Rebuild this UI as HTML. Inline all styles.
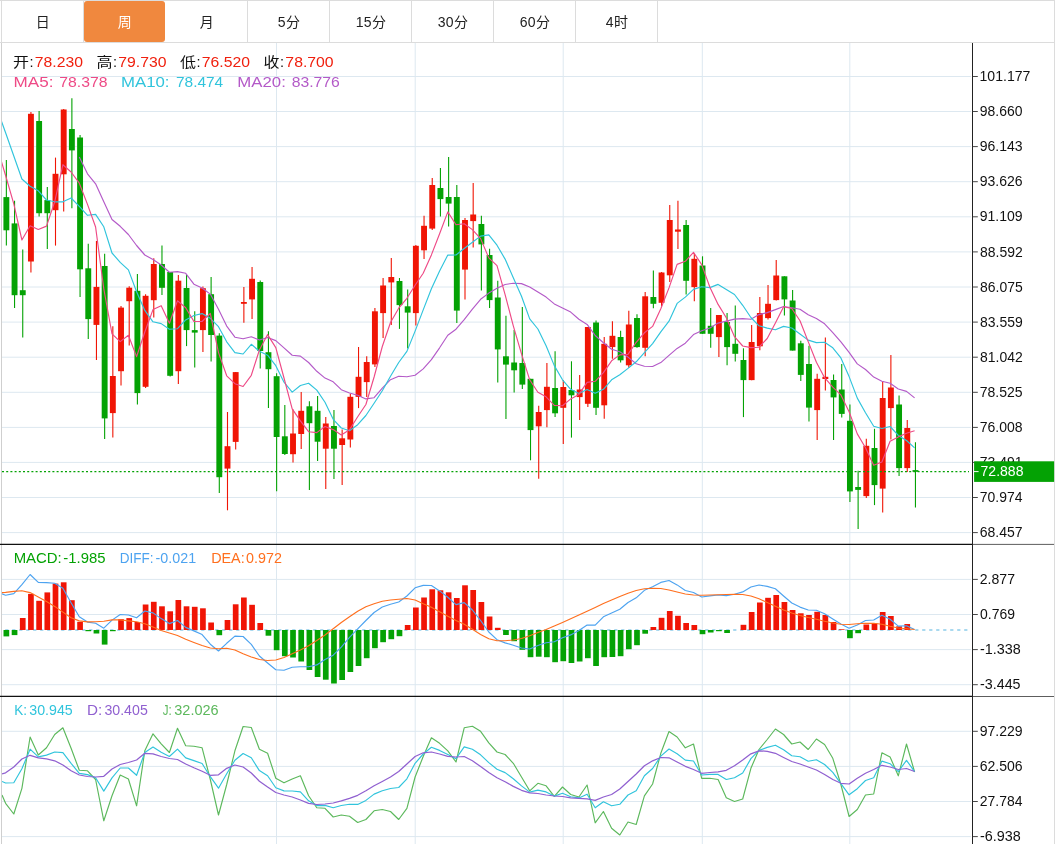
<!DOCTYPE html><html><head><meta charset="utf-8"><title>K线图</title><style>
html,body{margin:0;padding:0;background:#fff;}
body{width:1055px;height:844px;overflow:hidden;position:relative;font-family:"Liberation Sans", "Noto Sans CJK SC", sans-serif;}
#tabs{position:absolute;left:0;top:0;width:1055px;height:41px;border-top:1px solid #dcdcdc;border-bottom:1px solid #dcdcdc;box-sizing:content-box;}
.tab{position:absolute;top:0;height:41px;line-height:42px;text-align:center;font-size:14px;letter-spacing:0.3px;color:#222;padding-left:1px;border-right:1px solid #dcdcdc;box-sizing:border-box;}
.tab.on{background:#f0883e;color:#fff;border-radius:3px;border-right:none;top:0px;height:41px;}
svg{position:absolute;left:0;top:0;}
svg text{font-family:"Liberation Sans", "Noto Sans CJK SC", sans-serif;}
</style></head><body>
<div id="tabs">
<div class="tab" style="left:2.0px;width:82.0px">日</div>
<div class="tab on" style="left:84.0px;width:81.0px">周</div>
<div class="tab" style="left:166.0px;width:82.0px">月</div>
<div class="tab" style="left:248.0px;width:82.0px">5分</div>
<div class="tab" style="left:330.0px;width:82.0px">15分</div>
<div class="tab" style="left:412.0px;width:82.0px">30分</div>
<div class="tab" style="left:494.0px;width:82.0px">60分</div>
<div class="tab" style="left:576.0px;width:82.0px">4时</div>
</div>
<svg width="1055" height="844" viewBox="0 0 1055 844">
<defs><clipPath id="cp"><rect x="2" y="43" width="970" height="801"/></clipPath></defs>
<line x1="1.5" y1="43" x2="1.5" y2="844" stroke="#cfcfcf" stroke-width="1"/>
<line x1="1054.5" y1="0" x2="1054.5" y2="844" stroke="#dcdcdc" stroke-width="1"/>
<line x1="1.5" y1="0" x2="1.5" y2="43" stroke="#dcdcdc" stroke-width="1"/>
<g stroke="#dde8f0" stroke-width="1" fill="none">
<line x1="2" y1="76.5" x2="971" y2="76.5"/>
<line x1="2" y1="111.5" x2="971" y2="111.5"/>
<line x1="2" y1="146.6" x2="971" y2="146.6"/>
<line x1="2" y1="181.7" x2="971" y2="181.7"/>
<line x1="2" y1="216.8" x2="971" y2="216.8"/>
<line x1="2" y1="251.9" x2="971" y2="251.9"/>
<line x1="2" y1="287.0" x2="971" y2="287.0"/>
<line x1="2" y1="322.1" x2="971" y2="322.1"/>
<line x1="2" y1="357.2" x2="971" y2="357.2"/>
<line x1="2" y1="392.3" x2="971" y2="392.3"/>
<line x1="2" y1="427.4" x2="971" y2="427.4"/>
<line x1="2" y1="462.4" x2="971" y2="462.4"/>
<line x1="2" y1="497.5" x2="971" y2="497.5"/>
<line x1="2" y1="532.6" x2="971" y2="532.6"/>
<line x1="2" y1="579.4" x2="971" y2="579.4"/>
<line x1="2" y1="614.5" x2="971" y2="614.5"/>
<line x1="2" y1="649.6" x2="971" y2="649.6"/>
<line x1="2" y1="684.7" x2="971" y2="684.7"/>
<line x1="2" y1="731.3" x2="971" y2="731.3"/>
<line x1="2" y1="766.4" x2="971" y2="766.4"/>
<line x1="2" y1="801.5" x2="971" y2="801.5"/>
<line x1="2" y1="836.6" x2="971" y2="836.6"/>
<line x1="276.5" y1="43" x2="276.5" y2="844"/>
<line x1="415.2" y1="43" x2="415.2" y2="844"/>
<line x1="563.2" y1="43" x2="563.2" y2="844"/>
<line x1="702.3" y1="43" x2="702.3" y2="844"/>
<line x1="849.8" y1="43" x2="849.8" y2="844"/>
</g>
<line x1="5.2" y1="630" x2="967.6" y2="630" stroke="#a9d9ef" stroke-width="2" stroke-dasharray="3.2 3.8"/>
<line x1="6.36" y1="160.0" x2="6.36" y2="245.6" stroke="#04a204" stroke-width="1.1"/>
<rect x="3.41" y="197.1" width="5.9" height="33.2" fill="#04a204"/>
<line x1="14.55" y1="200.8" x2="14.55" y2="308.1" stroke="#04a204" stroke-width="1.1"/>
<rect x="11.60" y="223.4" width="5.9" height="71.8" fill="#04a204"/>
<line x1="22.74" y1="249.5" x2="22.74" y2="337.4" stroke="#04a204" stroke-width="1.1"/>
<rect x="19.79" y="290.2" width="5.9" height="5.0" fill="#04a204"/>
<line x1="30.93" y1="112.0" x2="30.93" y2="272.6" stroke="#f01505" stroke-width="1.1"/>
<rect x="27.98" y="113.8" width="5.9" height="147.7" fill="#f01505"/>
<line x1="39.12" y1="111.0" x2="39.12" y2="216.6" stroke="#04a204" stroke-width="1.1"/>
<rect x="36.17" y="121.0" width="5.9" height="92.2" fill="#04a204"/>
<line x1="47.31" y1="187.0" x2="47.31" y2="249.0" stroke="#04a204" stroke-width="1.1"/>
<rect x="44.36" y="200.1" width="5.9" height="13.1" fill="#04a204"/>
<line x1="55.50" y1="157.6" x2="55.50" y2="245.6" stroke="#f01505" stroke-width="1.1"/>
<rect x="52.55" y="173.8" width="5.9" height="36.4" fill="#f01505"/>
<line x1="63.69" y1="109.0" x2="63.69" y2="211.5" stroke="#f01505" stroke-width="1.1"/>
<rect x="60.74" y="109.5" width="5.9" height="64.8" fill="#f01505"/>
<line x1="71.88" y1="98.3" x2="71.88" y2="208.2" stroke="#04a204" stroke-width="1.1"/>
<rect x="68.93" y="129.0" width="5.9" height="21.4" fill="#04a204"/>
<line x1="80.07" y1="135.0" x2="80.07" y2="297.1" stroke="#04a204" stroke-width="1.1"/>
<rect x="77.12" y="137.5" width="5.9" height="131.8" fill="#04a204"/>
<line x1="88.26" y1="243.7" x2="88.26" y2="339.1" stroke="#04a204" stroke-width="1.1"/>
<rect x="85.31" y="268.3" width="5.9" height="50.8" fill="#04a204"/>
<line x1="96.45" y1="240.9" x2="96.45" y2="360.1" stroke="#f01505" stroke-width="1.1"/>
<rect x="93.50" y="286.9" width="5.9" height="38.0" fill="#f01505"/>
<line x1="104.64" y1="253.8" x2="104.64" y2="439.1" stroke="#04a204" stroke-width="1.1"/>
<rect x="101.69" y="266.0" width="5.9" height="152.4" fill="#04a204"/>
<line x1="112.83" y1="326.3" x2="112.83" y2="437.6" stroke="#f01505" stroke-width="1.1"/>
<rect x="109.88" y="376.0" width="5.9" height="37.1" fill="#f01505"/>
<line x1="121.02" y1="305.9" x2="121.02" y2="385.4" stroke="#f01505" stroke-width="1.1"/>
<rect x="118.07" y="307.6" width="5.9" height="63.6" fill="#f01505"/>
<line x1="129.21" y1="286.2" x2="129.21" y2="345.4" stroke="#f01505" stroke-width="1.1"/>
<rect x="126.26" y="287.7" width="5.9" height="13.5" fill="#f01505"/>
<line x1="137.40" y1="274.0" x2="137.40" y2="404.4" stroke="#04a204" stroke-width="1.1"/>
<rect x="134.45" y="290.8" width="5.9" height="102.3" fill="#04a204"/>
<line x1="145.59" y1="294.2" x2="145.59" y2="388.0" stroke="#f01505" stroke-width="1.1"/>
<rect x="142.64" y="295.8" width="5.9" height="91.0" fill="#f01505"/>
<line x1="153.78" y1="258.2" x2="153.78" y2="317.4" stroke="#f01505" stroke-width="1.1"/>
<rect x="150.83" y="264.0" width="5.9" height="36.2" fill="#f01505"/>
<line x1="161.97" y1="245.6" x2="161.97" y2="295.1" stroke="#04a204" stroke-width="1.1"/>
<rect x="159.02" y="264.0" width="5.9" height="23.8" fill="#04a204"/>
<line x1="170.16" y1="272.0" x2="170.16" y2="376.6" stroke="#04a204" stroke-width="1.1"/>
<rect x="167.21" y="272.0" width="5.9" height="103.8" fill="#04a204"/>
<line x1="178.35" y1="275.0" x2="178.35" y2="384.1" stroke="#f01505" stroke-width="1.1"/>
<rect x="175.40" y="280.7" width="5.9" height="90.5" fill="#f01505"/>
<line x1="186.54" y1="274.7" x2="186.54" y2="346.1" stroke="#04a204" stroke-width="1.1"/>
<rect x="183.59" y="288.0" width="5.9" height="42.1" fill="#04a204"/>
<line x1="194.73" y1="311.2" x2="194.73" y2="367.6" stroke="#04a204" stroke-width="1.1"/>
<rect x="191.78" y="330.1" width="5.9" height="2.5" fill="#04a204"/>
<line x1="202.92" y1="286.5" x2="202.92" y2="351.9" stroke="#f01505" stroke-width="1.1"/>
<rect x="199.97" y="288.2" width="5.9" height="41.9" fill="#f01505"/>
<line x1="211.11" y1="277.0" x2="211.11" y2="361.4" stroke="#04a204" stroke-width="1.1"/>
<rect x="208.16" y="294.2" width="5.9" height="40.8" fill="#04a204"/>
<line x1="219.30" y1="333.2" x2="219.30" y2="492.9" stroke="#04a204" stroke-width="1.1"/>
<rect x="216.35" y="335.6" width="5.9" height="141.6" fill="#04a204"/>
<line x1="227.49" y1="412.0" x2="227.49" y2="510.3" stroke="#f01505" stroke-width="1.1"/>
<rect x="224.54" y="446.2" width="5.9" height="22.4" fill="#f01505"/>
<line x1="235.68" y1="372.0" x2="235.68" y2="449.4" stroke="#f01505" stroke-width="1.1"/>
<rect x="232.73" y="372.1" width="5.9" height="69.8" fill="#f01505"/>
<line x1="243.87" y1="287.0" x2="243.87" y2="322.8" stroke="#f01505" stroke-width="1.1"/>
<rect x="240.92" y="302.0" width="5.9" height="1.8" fill="#f01505"/>
<line x1="252.06" y1="267.0" x2="252.06" y2="319.0" stroke="#f01505" stroke-width="1.1"/>
<rect x="249.11" y="278.8" width="5.9" height="20.6" fill="#f01505"/>
<line x1="260.25" y1="280.6" x2="260.25" y2="368.4" stroke="#04a204" stroke-width="1.1"/>
<rect x="257.30" y="282.0" width="5.9" height="69.0" fill="#04a204"/>
<line x1="268.44" y1="331.3" x2="268.44" y2="408.1" stroke="#04a204" stroke-width="1.1"/>
<rect x="265.49" y="352.2" width="5.9" height="17.0" fill="#04a204"/>
<line x1="276.63" y1="373.2" x2="276.63" y2="491.3" stroke="#04a204" stroke-width="1.1"/>
<rect x="273.68" y="376.2" width="5.9" height="60.8" fill="#04a204"/>
<line x1="284.82" y1="405.0" x2="284.82" y2="455.1" stroke="#04a204" stroke-width="1.1"/>
<rect x="281.87" y="436.3" width="5.9" height="17.7" fill="#04a204"/>
<line x1="293.01" y1="409.5" x2="293.01" y2="462.4" stroke="#f01505" stroke-width="1.1"/>
<rect x="290.06" y="433.5" width="5.9" height="20.7" fill="#f01505"/>
<line x1="301.20" y1="392.0" x2="301.20" y2="449.1" stroke="#f01505" stroke-width="1.1"/>
<rect x="298.25" y="410.8" width="5.9" height="23.2" fill="#f01505"/>
<line x1="309.39" y1="401.3" x2="309.39" y2="489.9" stroke="#04a204" stroke-width="1.1"/>
<rect x="306.44" y="406.3" width="5.9" height="16.9" fill="#04a204"/>
<line x1="317.58" y1="396.0" x2="317.58" y2="461.1" stroke="#04a204" stroke-width="1.1"/>
<rect x="314.63" y="410.8" width="5.9" height="30.9" fill="#04a204"/>
<line x1="325.77" y1="417.0" x2="325.77" y2="488.9" stroke="#f01505" stroke-width="1.1"/>
<rect x="322.82" y="423.5" width="5.9" height="25.2" fill="#f01505"/>
<line x1="333.96" y1="410.0" x2="333.96" y2="479.1" stroke="#04a204" stroke-width="1.1"/>
<rect x="331.01" y="426.0" width="5.9" height="22.7" fill="#04a204"/>
<line x1="342.15" y1="429.5" x2="342.15" y2="485.1" stroke="#f01505" stroke-width="1.1"/>
<rect x="339.20" y="438.3" width="5.9" height="6.7" fill="#f01505"/>
<line x1="350.34" y1="393.8" x2="350.34" y2="447.4" stroke="#f01505" stroke-width="1.1"/>
<rect x="347.39" y="396.8" width="5.9" height="42.7" fill="#f01505"/>
<line x1="358.53" y1="347.0" x2="358.53" y2="408.1" stroke="#f01505" stroke-width="1.1"/>
<rect x="355.58" y="376.8" width="5.9" height="20.1" fill="#f01505"/>
<line x1="366.72" y1="356.3" x2="366.72" y2="396.9" stroke="#f01505" stroke-width="1.1"/>
<rect x="363.77" y="362.0" width="5.9" height="20.1" fill="#f01505"/>
<line x1="374.91" y1="308.0" x2="374.91" y2="366.9" stroke="#f01505" stroke-width="1.1"/>
<rect x="371.96" y="311.3" width="5.9" height="53.1" fill="#f01505"/>
<line x1="383.10" y1="278.0" x2="383.10" y2="338.1" stroke="#f01505" stroke-width="1.1"/>
<rect x="380.15" y="285.5" width="5.9" height="27.6" fill="#f01505"/>
<line x1="391.29" y1="258.0" x2="391.29" y2="325.1" stroke="#f01505" stroke-width="1.1"/>
<rect x="388.34" y="277.0" width="5.9" height="5.4" fill="#f01505"/>
<line x1="399.48" y1="278.0" x2="399.48" y2="328.9" stroke="#04a204" stroke-width="1.1"/>
<rect x="396.53" y="281.0" width="5.9" height="24.1" fill="#04a204"/>
<line x1="407.67" y1="289.5" x2="407.67" y2="348.6" stroke="#04a204" stroke-width="1.1"/>
<rect x="404.72" y="306.3" width="5.9" height="6.3" fill="#04a204"/>
<line x1="415.86" y1="245.0" x2="415.86" y2="325.6" stroke="#f01505" stroke-width="1.1"/>
<rect x="412.91" y="245.8" width="5.9" height="67.3" fill="#f01505"/>
<line x1="424.05" y1="215.8" x2="424.05" y2="258.9" stroke="#f01505" stroke-width="1.1"/>
<rect x="421.10" y="225.8" width="5.9" height="24.5" fill="#f01505"/>
<line x1="432.24" y1="178.0" x2="432.24" y2="230.1" stroke="#f01505" stroke-width="1.1"/>
<rect x="429.29" y="185.0" width="5.9" height="43.6" fill="#f01505"/>
<line x1="440.43" y1="168.0" x2="440.43" y2="216.4" stroke="#04a204" stroke-width="1.1"/>
<rect x="437.48" y="188.0" width="5.9" height="11.1" fill="#04a204"/>
<line x1="448.62" y1="157.0" x2="448.62" y2="226.4" stroke="#04a204" stroke-width="1.1"/>
<rect x="445.67" y="197.0" width="5.9" height="6.6" fill="#04a204"/>
<line x1="456.81" y1="185.0" x2="456.81" y2="323.1" stroke="#04a204" stroke-width="1.1"/>
<rect x="453.86" y="197.0" width="5.9" height="113.6" fill="#04a204"/>
<line x1="465.00" y1="218.0" x2="465.00" y2="299.4" stroke="#f01505" stroke-width="1.1"/>
<rect x="462.05" y="220.0" width="5.9" height="49.6" fill="#f01505"/>
<line x1="473.19" y1="183.0" x2="473.19" y2="247.4" stroke="#f01505" stroke-width="1.1"/>
<rect x="470.24" y="214.5" width="5.9" height="6.6" fill="#f01505"/>
<line x1="481.38" y1="215.8" x2="481.38" y2="290.6" stroke="#04a204" stroke-width="1.1"/>
<rect x="478.43" y="224.0" width="5.9" height="20.4" fill="#04a204"/>
<line x1="489.57" y1="248.8" x2="489.57" y2="308.1" stroke="#04a204" stroke-width="1.1"/>
<rect x="486.62" y="255.0" width="5.9" height="45.1" fill="#04a204"/>
<line x1="497.76" y1="280.8" x2="497.76" y2="382.6" stroke="#04a204" stroke-width="1.1"/>
<rect x="494.81" y="297.5" width="5.9" height="51.9" fill="#04a204"/>
<line x1="505.95" y1="315.8" x2="505.95" y2="419.1" stroke="#04a204" stroke-width="1.1"/>
<rect x="503.00" y="356.3" width="5.9" height="8.3" fill="#04a204"/>
<line x1="514.14" y1="330.0" x2="514.14" y2="392.6" stroke="#04a204" stroke-width="1.1"/>
<rect x="511.19" y="362.5" width="5.9" height="7.8" fill="#04a204"/>
<line x1="522.33" y1="307.0" x2="522.33" y2="389.1" stroke="#04a204" stroke-width="1.1"/>
<rect x="519.38" y="363.0" width="5.9" height="21.6" fill="#04a204"/>
<line x1="530.52" y1="378.8" x2="530.52" y2="460.3" stroke="#04a204" stroke-width="1.1"/>
<rect x="527.57" y="378.8" width="5.9" height="51.3" fill="#04a204"/>
<line x1="538.71" y1="405.8" x2="538.71" y2="478.8" stroke="#f01505" stroke-width="1.1"/>
<rect x="535.76" y="412.0" width="5.9" height="14.3" fill="#f01505"/>
<line x1="546.90" y1="363.0" x2="546.90" y2="427.3" stroke="#f01505" stroke-width="1.1"/>
<rect x="543.95" y="386.8" width="5.9" height="23.3" fill="#f01505"/>
<line x1="555.09" y1="351.3" x2="555.09" y2="417.1" stroke="#04a204" stroke-width="1.1"/>
<rect x="552.14" y="388.0" width="5.9" height="25.3" fill="#04a204"/>
<line x1="563.28" y1="380.0" x2="563.28" y2="444.1" stroke="#f01505" stroke-width="1.1"/>
<rect x="560.33" y="387.0" width="5.9" height="20.8" fill="#f01505"/>
<line x1="571.47" y1="361.3" x2="571.47" y2="437.6" stroke="#04a204" stroke-width="1.1"/>
<rect x="568.52" y="390.0" width="5.9" height="5.3" fill="#04a204"/>
<line x1="579.66" y1="375.0" x2="579.66" y2="420.1" stroke="#f01505" stroke-width="1.1"/>
<rect x="576.71" y="389.5" width="5.9" height="7.6" fill="#f01505"/>
<line x1="587.85" y1="327.0" x2="587.85" y2="407.1" stroke="#f01505" stroke-width="1.1"/>
<rect x="584.90" y="327.0" width="5.9" height="76.8" fill="#f01505"/>
<line x1="596.04" y1="320.5" x2="596.04" y2="415.1" stroke="#04a204" stroke-width="1.1"/>
<rect x="593.09" y="322.5" width="5.9" height="85.3" fill="#04a204"/>
<line x1="604.23" y1="337.0" x2="604.23" y2="418.8" stroke="#f01505" stroke-width="1.1"/>
<rect x="601.28" y="343.8" width="5.9" height="61.5" fill="#f01505"/>
<line x1="612.42" y1="321.3" x2="612.42" y2="358.8" stroke="#f01505" stroke-width="1.1"/>
<rect x="609.47" y="335.8" width="5.9" height="11.3" fill="#f01505"/>
<line x1="620.61" y1="330.8" x2="620.61" y2="362.6" stroke="#04a204" stroke-width="1.1"/>
<rect x="617.66" y="337.0" width="5.9" height="23.3" fill="#04a204"/>
<line x1="628.80" y1="310.8" x2="628.80" y2="367.8" stroke="#f01505" stroke-width="1.1"/>
<rect x="625.85" y="324.5" width="5.9" height="40.8" fill="#f01505"/>
<line x1="636.99" y1="314.3" x2="636.99" y2="347.8" stroke="#04a204" stroke-width="1.1"/>
<rect x="634.04" y="318.0" width="5.9" height="29.1" fill="#04a204"/>
<line x1="645.18" y1="292.0" x2="645.18" y2="356.3" stroke="#f01505" stroke-width="1.1"/>
<rect x="642.23" y="296.3" width="5.9" height="51.5" fill="#f01505"/>
<line x1="653.37" y1="270.5" x2="653.37" y2="308.3" stroke="#04a204" stroke-width="1.1"/>
<rect x="650.42" y="297.0" width="5.9" height="6.8" fill="#04a204"/>
<line x1="661.56" y1="272.0" x2="661.56" y2="306.3" stroke="#f01505" stroke-width="1.1"/>
<rect x="658.61" y="272.5" width="5.9" height="30.3" fill="#f01505"/>
<line x1="669.75" y1="205.0" x2="669.75" y2="282.1" stroke="#f01505" stroke-width="1.1"/>
<rect x="666.80" y="220.0" width="5.9" height="55.3" fill="#f01505"/>
<line x1="677.94" y1="200.8" x2="677.94" y2="249.1" stroke="#f01505" stroke-width="1.1"/>
<rect x="674.99" y="229.5" width="5.9" height="2.2" fill="#f01505"/>
<line x1="686.13" y1="220.0" x2="686.13" y2="294.6" stroke="#04a204" stroke-width="1.1"/>
<rect x="683.18" y="225.0" width="5.9" height="55.8" fill="#04a204"/>
<line x1="694.32" y1="253.8" x2="694.32" y2="301.3" stroke="#f01505" stroke-width="1.1"/>
<rect x="691.37" y="258.8" width="5.9" height="28.3" fill="#f01505"/>
<line x1="702.51" y1="256.3" x2="702.51" y2="333.8" stroke="#04a204" stroke-width="1.1"/>
<rect x="699.56" y="265.5" width="5.9" height="68.3" fill="#04a204"/>
<line x1="710.70" y1="308.0" x2="710.70" y2="347.8" stroke="#04a204" stroke-width="1.1"/>
<rect x="707.75" y="325.8" width="5.9" height="8.0" fill="#04a204"/>
<line x1="718.89" y1="315.0" x2="718.89" y2="357.1" stroke="#f01505" stroke-width="1.1"/>
<rect x="715.94" y="315.0" width="5.9" height="22.1" fill="#f01505"/>
<line x1="727.08" y1="313.0" x2="727.08" y2="365.3" stroke="#04a204" stroke-width="1.1"/>
<rect x="724.13" y="322.0" width="5.9" height="25.1" fill="#04a204"/>
<line x1="735.27" y1="305.5" x2="735.27" y2="361.6" stroke="#04a204" stroke-width="1.1"/>
<rect x="732.32" y="343.8" width="5.9" height="10.0" fill="#04a204"/>
<line x1="743.46" y1="348.3" x2="743.46" y2="417.1" stroke="#04a204" stroke-width="1.1"/>
<rect x="740.51" y="360.0" width="5.9" height="20.1" fill="#04a204"/>
<line x1="751.65" y1="325.0" x2="751.65" y2="380.3" stroke="#f01505" stroke-width="1.1"/>
<rect x="748.70" y="342.0" width="5.9" height="38.1" fill="#f01505"/>
<line x1="759.84" y1="297.0" x2="759.84" y2="350.3" stroke="#f01505" stroke-width="1.1"/>
<rect x="756.89" y="313.0" width="5.9" height="33.3" fill="#f01505"/>
<line x1="768.03" y1="285.0" x2="768.03" y2="319.4" stroke="#f01505" stroke-width="1.1"/>
<rect x="765.08" y="303.8" width="5.9" height="14.3" fill="#f01505"/>
<line x1="776.22" y1="260.0" x2="776.22" y2="300.6" stroke="#f01505" stroke-width="1.1"/>
<rect x="773.27" y="275.5" width="5.9" height="24.6" fill="#f01505"/>
<line x1="784.41" y1="276.3" x2="784.41" y2="315.6" stroke="#04a204" stroke-width="1.1"/>
<rect x="781.46" y="276.3" width="5.9" height="23.1" fill="#04a204"/>
<line x1="792.60" y1="290.0" x2="792.60" y2="350.6" stroke="#04a204" stroke-width="1.1"/>
<rect x="789.65" y="300.5" width="5.9" height="50.1" fill="#04a204"/>
<line x1="800.79" y1="340.8" x2="800.79" y2="381.1" stroke="#04a204" stroke-width="1.1"/>
<rect x="797.84" y="343.3" width="5.9" height="31.6" fill="#04a204"/>
<line x1="808.98" y1="345.8" x2="808.98" y2="421.4" stroke="#04a204" stroke-width="1.1"/>
<rect x="806.03" y="364.0" width="5.9" height="43.6" fill="#04a204"/>
<line x1="817.17" y1="373.8" x2="817.17" y2="440.1" stroke="#f01505" stroke-width="1.1"/>
<rect x="814.22" y="378.8" width="5.9" height="31.3" fill="#f01505"/>
<line x1="825.36" y1="337.5" x2="825.36" y2="390.4" stroke="#f01505" stroke-width="1.1"/>
<rect x="822.41" y="376.8" width="5.9" height="2.2" fill="#f01505"/>
<line x1="833.55" y1="374.5" x2="833.55" y2="439.9" stroke="#04a204" stroke-width="1.1"/>
<rect x="830.60" y="380.0" width="5.9" height="17.4" fill="#04a204"/>
<line x1="841.74" y1="364.0" x2="841.74" y2="417.6" stroke="#04a204" stroke-width="1.1"/>
<rect x="838.79" y="389.5" width="5.9" height="24.4" fill="#04a204"/>
<line x1="849.93" y1="404.5" x2="849.93" y2="501.9" stroke="#04a204" stroke-width="1.1"/>
<rect x="846.98" y="420.8" width="5.9" height="70.6" fill="#04a204"/>
<line x1="858.12" y1="470.8" x2="858.12" y2="528.9" stroke="#04a204" stroke-width="1.1"/>
<rect x="855.17" y="487.0" width="5.9" height="2.9" fill="#04a204"/>
<line x1="866.31" y1="438.8" x2="866.31" y2="498.1" stroke="#f01505" stroke-width="1.1"/>
<rect x="863.36" y="445.8" width="5.9" height="50.3" fill="#f01505"/>
<line x1="874.50" y1="428.8" x2="874.50" y2="505.1" stroke="#04a204" stroke-width="1.1"/>
<rect x="871.55" y="448.0" width="5.9" height="37.1" fill="#04a204"/>
<line x1="882.69" y1="381.3" x2="882.69" y2="512.4" stroke="#f01505" stroke-width="1.1"/>
<rect x="879.74" y="398.0" width="5.9" height="90.6" fill="#f01505"/>
<line x1="890.88" y1="355.0" x2="890.88" y2="439.4" stroke="#f01505" stroke-width="1.1"/>
<rect x="887.93" y="387.5" width="5.9" height="20.6" fill="#f01505"/>
<line x1="899.07" y1="395.5" x2="899.07" y2="476.1" stroke="#04a204" stroke-width="1.1"/>
<rect x="896.12" y="404.5" width="5.9" height="63.6" fill="#04a204"/>
<line x1="907.26" y1="420.0" x2="907.26" y2="471.9" stroke="#f01505" stroke-width="1.1"/>
<rect x="904.31" y="428.0" width="5.9" height="40.1" fill="#f01505"/>
<line x1="915.45" y1="442.2" x2="915.45" y2="507.5" stroke="#04a204" stroke-width="1.1"/>
<rect x="912.50" y="470.1" width="5.9" height="1.7" fill="#04a204"/>
<polyline clip-path="url(#cp)" fill="none" stroke="#b45ac8" stroke-width="1.15" stroke-linejoin="round" points="79.3,157.0 87.5,173.8 95.6,183.8 103.8,201.8 112.0,219.5 120.2,226.3 128.4,234.5 136.6,245.5 144.8,255.0 153.0,259.5 161.2,265.0 169.4,272.3 177.5,271.6 185.7,273.3 193.9,284.2 202.1,288.0 210.3,294.1 218.5,309.3 226.7,326.1 234.9,337.2 243.1,338.8 251.3,336.8 259.4,340.0 267.6,337.5 275.8,340.6 284.0,347.9 292.2,355.2 300.4,356.1 308.6,362.5 316.8,371.3 325.0,378.1 333.2,381.8 341.3,389.7 349.5,393.0 357.7,395.2 365.9,398.9 374.1,397.7 382.3,388.1 390.5,379.7 398.7,376.3 406.9,376.8 415.1,375.2 423.2,368.9 431.4,359.7 439.6,347.8 447.8,335.3 456.0,329.2 464.2,319.6 472.4,309.2 480.6,299.3 488.8,293.1 497.0,288.2 505.1,284.5 513.3,283.2 521.5,283.6 529.7,287.0 537.9,292.0 546.1,297.1 554.3,303.9 562.5,308.0 570.7,312.1 578.9,319.3 587.1,324.4 595.2,335.5 603.4,342.7 611.6,349.3 619.8,351.8 628.0,357.1 636.2,363.7 644.4,366.3 652.6,366.5 660.8,362.6 669.0,355.4 677.1,348.4 685.3,343.2 693.5,334.6 701.7,330.7 709.9,328.0 718.1,323.1 726.3,321.1 734.5,319.1 742.7,318.6 750.9,319.3 759.0,314.6 767.2,312.6 775.4,309.6 783.6,306.5 791.8,307.8 800.0,309.2 808.2,314.8 816.4,318.5 824.6,323.8 832.8,332.6 840.9,341.8 849.1,352.4 857.3,363.9 865.5,369.5 873.7,377.1 881.9,381.2 890.1,383.3 898.3,389.0 906.5,391.4 914.6,397.9"/>
<polyline clip-path="url(#cp)" fill="none" stroke="#30c4dc" stroke-width="1.15" stroke-linejoin="round" points="-2.6,110.0 5.6,132.7 13.8,156.0 21.9,179.0 30.1,186.3 38.3,190.8 46.5,200.0 54.7,201.8 62.9,201.8 71.1,198.0 79.3,206.4 87.5,215.3 95.6,214.4 103.8,226.8 112.0,253.0 120.2,262.4 128.4,269.9 136.6,291.8 144.8,310.4 153.0,321.8 161.2,323.6 169.4,329.3 177.5,328.7 185.7,319.9 193.9,315.5 202.1,313.6 210.3,318.3 218.5,326.7 226.7,341.8 234.9,352.6 243.1,354.0 251.3,344.3 259.4,351.3 267.6,355.2 275.8,365.7 284.0,382.2 292.2,392.1 300.4,385.5 308.6,383.2 316.8,390.1 325.0,402.3 333.2,419.3 341.3,428.0 349.5,430.8 357.7,424.7 365.9,415.5 374.1,403.3 382.3,390.8 390.5,376.2 398.7,362.5 406.9,351.4 415.1,331.1 423.2,309.9 431.4,288.7 439.6,270.9 447.8,255.1 456.0,255.0 464.2,248.5 472.4,242.2 480.6,236.1 488.8,234.9 497.0,245.2 505.1,259.1 513.3,277.7 521.5,296.2 529.7,318.9 537.9,329.0 546.1,345.7 554.3,365.6 562.5,379.8 570.7,389.3 578.9,393.4 587.1,389.6 595.2,393.3 603.4,389.3 611.6,379.8 619.8,374.7 628.0,368.4 636.2,361.8 644.4,352.7 652.6,343.6 660.8,331.9 669.0,321.2 677.1,303.4 685.3,297.1 693.5,289.4 701.7,286.7 709.9,287.6 718.1,284.4 726.3,289.5 734.5,294.5 742.7,305.3 750.9,317.5 759.0,325.8 767.2,328.1 775.4,329.8 783.6,326.4 791.8,328.0 800.0,334.0 808.2,340.1 816.4,342.6 824.6,342.2 832.8,347.8 840.9,357.9 849.1,376.6 857.3,398.1 865.5,412.7 873.7,426.2 881.9,428.5 890.1,426.5 898.3,435.4 906.5,440.5 914.6,447.9"/>
<polyline clip-path="url(#cp)" fill="none" stroke="#ee4a86" stroke-width="1.15" stroke-linejoin="round" points="-2.6,148.0 5.6,175.5 13.8,203.8 21.9,240.0 30.1,225.8 38.3,229.5 46.5,226.1 54.7,201.8 62.9,164.7 71.1,172.0 79.3,183.2 87.5,204.4 95.6,227.0 103.8,288.8 112.0,333.9 120.2,341.6 128.4,335.3 136.6,356.6 144.8,332.0 153.0,309.6 161.2,305.7 169.4,323.3 177.5,300.8 185.7,307.7 193.9,321.4 202.1,321.5 210.3,313.3 218.5,352.6 226.7,375.8 234.9,383.7 243.1,386.5 251.3,375.3 259.4,350.0 267.6,334.6 275.8,347.6 284.0,378.0 292.2,408.9 300.4,420.9 308.6,431.7 316.8,432.6 325.0,426.5 333.2,429.6 341.3,435.1 349.5,429.8 357.7,416.8 365.9,404.5 374.1,377.0 382.3,346.5 390.5,322.5 398.7,308.2 406.9,298.3 415.1,285.2 423.2,273.3 431.4,254.9 439.6,233.7 447.8,211.9 456.0,224.8 464.2,223.7 472.4,229.6 480.6,238.6 488.8,257.9 497.0,265.7 505.1,294.6 513.3,325.8 521.5,353.8 529.7,379.8 537.9,392.3 546.1,396.8 554.3,405.4 562.5,405.8 570.7,398.9 578.9,394.4 587.1,382.4 595.2,381.3 603.4,372.7 611.6,360.8 619.8,354.9 628.0,354.4 636.2,342.3 644.4,332.8 652.6,326.4 660.8,308.8 669.0,287.9 677.1,264.4 685.3,261.3 693.5,252.3 701.7,264.6 709.9,287.3 718.1,304.4 726.3,317.7 734.5,336.7 742.7,346.0 750.9,347.6 759.0,347.2 767.2,338.5 775.4,322.9 783.6,306.7 791.8,308.5 800.0,320.8 808.2,341.6 816.4,362.3 824.6,377.7 832.8,387.1 840.9,394.9 849.1,411.7 857.3,433.9 865.5,447.7 873.7,465.2 881.9,462.0 890.1,441.3 898.3,436.9 906.5,433.3 914.6,430.7"/>
<line x1="2" y1="471.7" x2="969" y2="471.7" stroke="#04a204" stroke-width="1.3" stroke-dasharray="2 2.2"/>
<rect x="3.51" y="630" width="5.7" height="6.4" fill="#04a204"/>
<rect x="11.70" y="630" width="5.7" height="5.1" fill="#04a204"/>
<rect x="19.89" y="618.0" width="5.7" height="12.0" fill="#f01505"/>
<rect x="28.08" y="593.9" width="5.7" height="36.1" fill="#f01505"/>
<rect x="36.27" y="600.8" width="5.7" height="29.2" fill="#f01505"/>
<rect x="44.46" y="592.4" width="5.7" height="37.6" fill="#f01505"/>
<rect x="52.65" y="583.6" width="5.7" height="46.4" fill="#f01505"/>
<rect x="60.84" y="582.3" width="5.7" height="47.7" fill="#f01505"/>
<rect x="69.03" y="600.2" width="5.7" height="29.8" fill="#f01505"/>
<rect x="77.22" y="621.8" width="5.7" height="8.2" fill="#f01505"/>
<rect x="85.41" y="630" width="5.7" height="1.2" fill="#04a204"/>
<rect x="93.60" y="630" width="5.7" height="3.5" fill="#04a204"/>
<rect x="101.79" y="630" width="5.7" height="14.6" fill="#04a204"/>
<rect x="109.98" y="630" width="5.7" height="1.2" fill="#04a204"/>
<rect x="118.17" y="619.2" width="5.7" height="10.8" fill="#f01505"/>
<rect x="126.36" y="618.1" width="5.7" height="11.9" fill="#f01505"/>
<rect x="134.55" y="622.0" width="5.7" height="8.0" fill="#f01505"/>
<rect x="142.74" y="604.5" width="5.7" height="25.5" fill="#f01505"/>
<rect x="150.93" y="601.8" width="5.7" height="28.2" fill="#f01505"/>
<rect x="159.12" y="606.3" width="5.7" height="23.7" fill="#f01505"/>
<rect x="167.31" y="611.3" width="5.7" height="18.7" fill="#f01505"/>
<rect x="175.50" y="600.0" width="5.7" height="30.0" fill="#f01505"/>
<rect x="183.69" y="606.3" width="5.7" height="23.7" fill="#f01505"/>
<rect x="191.88" y="606.8" width="5.7" height="23.2" fill="#f01505"/>
<rect x="200.07" y="608.3" width="5.7" height="21.7" fill="#f01505"/>
<rect x="208.26" y="622.5" width="5.7" height="7.5" fill="#f01505"/>
<rect x="216.45" y="630" width="5.7" height="5.2" fill="#04a204"/>
<rect x="224.64" y="620.0" width="5.7" height="10.0" fill="#f01505"/>
<rect x="232.83" y="604.3" width="5.7" height="25.7" fill="#f01505"/>
<rect x="241.02" y="597.5" width="5.7" height="32.5" fill="#f01505"/>
<rect x="249.21" y="604.8" width="5.7" height="25.2" fill="#f01505"/>
<rect x="257.40" y="623.0" width="5.7" height="7.0" fill="#f01505"/>
<rect x="265.59" y="630" width="5.7" height="5.7" fill="#04a204"/>
<rect x="273.78" y="630" width="5.7" height="20.2" fill="#04a204"/>
<rect x="281.97" y="630" width="5.7" height="26.2" fill="#04a204"/>
<rect x="290.16" y="630" width="5.7" height="27.5" fill="#04a204"/>
<rect x="298.35" y="630" width="5.7" height="31.5" fill="#04a204"/>
<rect x="306.54" y="630" width="5.7" height="40.0" fill="#04a204"/>
<rect x="314.73" y="630" width="5.7" height="47.0" fill="#04a204"/>
<rect x="322.92" y="630" width="5.7" height="49.7" fill="#04a204"/>
<rect x="331.11" y="630" width="5.7" height="53.5" fill="#04a204"/>
<rect x="339.30" y="630" width="5.7" height="50.0" fill="#04a204"/>
<rect x="347.49" y="630" width="5.7" height="42.0" fill="#04a204"/>
<rect x="355.68" y="630" width="5.7" height="36.0" fill="#04a204"/>
<rect x="363.87" y="630" width="5.7" height="28.2" fill="#04a204"/>
<rect x="372.06" y="630" width="5.7" height="18.2" fill="#04a204"/>
<rect x="380.25" y="630" width="5.7" height="12.2" fill="#04a204"/>
<rect x="388.44" y="630" width="5.7" height="9.2" fill="#04a204"/>
<rect x="396.63" y="630" width="5.7" height="6.2" fill="#04a204"/>
<rect x="404.82" y="625.0" width="5.7" height="5.0" fill="#f01505"/>
<rect x="413.01" y="607.5" width="5.7" height="22.5" fill="#f01505"/>
<rect x="421.20" y="597.5" width="5.7" height="32.5" fill="#f01505"/>
<rect x="429.39" y="589.3" width="5.7" height="40.7" fill="#f01505"/>
<rect x="437.58" y="590.3" width="5.7" height="39.7" fill="#f01505"/>
<rect x="445.77" y="592.3" width="5.7" height="37.7" fill="#f01505"/>
<rect x="453.96" y="598.0" width="5.7" height="32.0" fill="#f01505"/>
<rect x="462.15" y="585.3" width="5.7" height="44.7" fill="#f01505"/>
<rect x="470.34" y="590.0" width="5.7" height="40.0" fill="#f01505"/>
<rect x="478.53" y="602.0" width="5.7" height="28.0" fill="#f01505"/>
<rect x="486.72" y="616.5" width="5.7" height="13.5" fill="#f01505"/>
<rect x="494.91" y="627.8" width="5.7" height="2.2" fill="#f01505"/>
<rect x="503.10" y="630" width="5.7" height="5.0" fill="#04a204"/>
<rect x="511.29" y="630" width="5.7" height="11.2" fill="#04a204"/>
<rect x="519.48" y="630" width="5.7" height="19.8" fill="#04a204"/>
<rect x="527.67" y="630" width="5.7" height="27.2" fill="#04a204"/>
<rect x="535.86" y="630" width="5.7" height="26.7" fill="#04a204"/>
<rect x="544.05" y="630" width="5.7" height="27.2" fill="#04a204"/>
<rect x="552.24" y="630" width="5.7" height="32.2" fill="#04a204"/>
<rect x="560.43" y="630" width="5.7" height="31.2" fill="#04a204"/>
<rect x="568.62" y="630" width="5.7" height="33.0" fill="#04a204"/>
<rect x="576.81" y="630" width="5.7" height="31.5" fill="#04a204"/>
<rect x="585.00" y="630" width="5.7" height="28.2" fill="#04a204"/>
<rect x="593.19" y="630" width="5.7" height="36.0" fill="#04a204"/>
<rect x="601.38" y="630" width="5.7" height="27.2" fill="#04a204"/>
<rect x="609.57" y="630" width="5.7" height="27.0" fill="#04a204"/>
<rect x="617.76" y="630" width="5.7" height="26.2" fill="#04a204"/>
<rect x="625.95" y="630" width="5.7" height="19.2" fill="#04a204"/>
<rect x="634.14" y="630" width="5.7" height="15.2" fill="#04a204"/>
<rect x="642.33" y="630" width="5.7" height="3.7" fill="#04a204"/>
<rect x="650.52" y="627.0" width="5.7" height="3.0" fill="#f01505"/>
<rect x="658.71" y="617.8" width="5.7" height="12.2" fill="#f01505"/>
<rect x="666.90" y="611.0" width="5.7" height="19.0" fill="#f01505"/>
<rect x="675.09" y="615.8" width="5.7" height="14.2" fill="#f01505"/>
<rect x="683.28" y="623.0" width="5.7" height="7.0" fill="#f01505"/>
<rect x="691.47" y="625.0" width="5.7" height="5.0" fill="#f01505"/>
<rect x="699.66" y="630" width="5.7" height="4.2" fill="#04a204"/>
<rect x="707.85" y="630" width="5.7" height="2.5" fill="#04a204"/>
<rect x="716.04" y="630" width="5.7" height="1.2" fill="#04a204"/>
<rect x="724.23" y="630" width="5.7" height="3.0" fill="#04a204"/>
<rect x="740.61" y="624.8" width="5.7" height="5.2" fill="#f01505"/>
<rect x="748.80" y="612.0" width="5.7" height="18.0" fill="#f01505"/>
<rect x="756.99" y="602.5" width="5.7" height="27.5" fill="#f01505"/>
<rect x="765.18" y="597.8" width="5.7" height="32.2" fill="#f01505"/>
<rect x="773.37" y="595.0" width="5.7" height="35.0" fill="#f01505"/>
<rect x="781.56" y="602.0" width="5.7" height="28.0" fill="#f01505"/>
<rect x="789.75" y="610.0" width="5.7" height="20.0" fill="#f01505"/>
<rect x="797.94" y="613.3" width="5.7" height="16.7" fill="#f01505"/>
<rect x="806.13" y="615.0" width="5.7" height="15.0" fill="#f01505"/>
<rect x="814.32" y="611.8" width="5.7" height="18.2" fill="#f01505"/>
<rect x="822.51" y="615.0" width="5.7" height="15.0" fill="#f01505"/>
<rect x="830.70" y="622.0" width="5.7" height="8.0" fill="#f01505"/>
<rect x="838.89" y="629.3" width="5.7" height="0.7" fill="#f01505"/>
<rect x="847.08" y="630" width="5.7" height="8.2" fill="#04a204"/>
<rect x="855.27" y="630" width="5.7" height="3.2" fill="#04a204"/>
<rect x="863.46" y="624.5" width="5.7" height="5.5" fill="#f01505"/>
<rect x="871.65" y="623.5" width="5.7" height="6.5" fill="#f01505"/>
<rect x="879.84" y="612.0" width="5.7" height="18.0" fill="#f01505"/>
<rect x="888.03" y="616.0" width="5.7" height="14.0" fill="#f01505"/>
<rect x="896.22" y="626.3" width="5.7" height="3.7" fill="#f01505"/>
<rect x="904.41" y="624.0" width="5.7" height="6.0" fill="#f01505"/>
<polyline clip-path="url(#cp)" fill="none" stroke="#4da3f0" stroke-width="1.15" stroke-linejoin="round" points="2.0,593.9 5.6,595.2 13.8,593.6 21.9,584.7 30.1,574.5 38.3,582.4 46.5,582.6 54.7,583.2 62.9,588.2 71.1,602.8 79.3,616.8 87.5,622.1 95.6,623.2 103.8,628.2 112.0,620.1 120.2,614.5 128.4,615.0 136.6,617.8 144.8,611.0 153.0,612.9 161.2,618.6 169.4,623.6 177.5,620.5 185.7,627.4 193.9,630.9 202.1,634.6 210.3,644.2 218.5,651.0 226.7,643.3 234.9,636.1 243.1,636.5 251.3,644.4 259.4,656.0 267.6,663.0 275.8,669.8 284.0,670.2 292.2,667.2 300.4,666.7 308.6,666.7 316.8,664.9 325.0,659.5 333.2,655.2 341.3,647.1 349.5,637.4 357.7,628.9 365.9,620.5 374.1,612.5 382.3,607.0 390.5,604.2 398.7,602.0 406.9,596.0 415.1,587.8 423.2,585.4 431.4,585.5 439.6,590.9 447.8,597.2 456.0,604.6 464.2,602.6 472.4,610.0 480.6,620.5 488.8,632.0 497.0,639.7 505.1,642.9 513.3,645.2 521.5,648.0 529.7,649.0 537.9,645.5 546.1,642.8 554.3,641.8 562.5,637.8 570.7,634.9 578.9,630.4 587.1,625.0 595.2,625.1 603.4,616.8 611.6,613.1 619.8,609.2 628.0,602.5 636.2,597.8 644.4,590.3 652.6,586.8 660.8,582.4 669.0,580.5 677.1,584.9 685.3,590.5 693.5,592.5 701.7,597.0 709.9,595.9 718.1,595.0 726.3,595.6 734.5,594.2 742.7,591.9 750.9,587.0 759.0,585.0 767.2,586.4 775.4,588.8 783.6,596.0 791.8,603.0 800.0,607.1 808.2,610.0 816.4,610.2 824.6,613.8 832.8,619.0 840.9,623.9 849.1,628.2 857.3,625.0 865.5,620.5 873.7,620.0 881.9,615.3 890.1,619.3 898.3,626.1 906.5,625.8 914.6,629.5"/>
<polyline clip-path="url(#cp)" fill="none" stroke="#ff6f1e" stroke-width="1.15" stroke-linejoin="round" points="2.0,592.6 5.6,592.4 13.8,591.4 21.9,590.7 30.1,592.6 38.3,597.0 46.5,601.4 54.7,606.4 62.9,612.1 71.1,617.7 79.3,620.9 87.5,621.9 95.6,621.8 103.8,621.3 112.0,619.9 120.2,619.9 128.4,620.9 136.6,621.8 144.8,623.8 153.0,627.0 161.2,630.5 169.4,633.0 177.5,635.5 185.7,639.3 193.9,642.5 202.1,645.5 210.3,648.0 218.5,648.8 226.7,648.3 234.9,650.0 243.1,653.8 251.3,657.0 259.4,659.5 267.6,660.5 275.8,660.0 284.0,657.5 292.2,653.8 300.4,650.0 308.6,645.8 316.8,640.5 325.0,635.0 333.2,628.8 341.3,622.5 349.5,616.8 357.7,611.3 365.9,606.8 374.1,603.8 382.3,601.3 390.5,600.0 398.7,599.3 406.9,598.5 415.1,600.0 423.2,603.8 431.4,607.3 439.6,611.8 447.8,616.3 456.0,620.6 464.2,624.3 472.4,629.3 480.6,634.5 488.8,638.8 497.0,640.8 505.1,640.7 513.3,640.0 521.5,638.5 529.7,635.8 537.9,632.5 546.1,629.5 554.3,626.0 562.5,622.5 570.7,618.8 578.9,615.0 587.1,611.3 595.2,607.5 603.4,603.5 611.6,600.0 619.8,596.5 628.0,593.3 636.2,590.5 644.4,588.8 652.6,588.3 660.8,588.5 669.0,590.0 677.1,592.0 685.3,594.0 693.5,595.0 701.7,595.3 709.9,595.0 718.1,594.8 726.3,594.5 734.5,594.3 742.7,594.5 750.9,596.0 759.0,598.8 767.2,602.5 775.4,606.3 783.6,610.0 791.8,613.0 800.0,615.5 808.2,617.5 816.4,619.3 824.6,621.3 832.8,623.0 840.9,624.3 849.1,624.5 857.3,623.8 865.5,623.3 873.7,623.3 881.9,624.3 890.1,626.3 898.3,628.0 906.5,628.8 914.6,629.5"/>
<polyline clip-path="url(#cp)" fill="none" stroke="#5cb85c" stroke-width="1.15" stroke-linejoin="round" points="2.0,795.0 5.6,803.3 13.8,814.0 21.9,788.3 30.1,737.0 38.3,755.0 46.5,747.8 54.7,734.5 62.9,727.8 71.1,748.3 79.3,770.3 87.5,770.8 95.6,779.5 103.8,820.8 112.0,795.8 120.2,775.0 128.4,779.0 136.6,805.8 144.8,750.8 153.0,733.8 161.2,743.8 169.4,752.5 177.5,728.3 185.7,745.8 193.9,746.3 202.1,747.8 210.3,779.5 218.5,815.0 226.7,784.5 234.9,750.8 243.1,726.5 251.3,727.5 259.4,749.3 267.6,753.3 275.8,778.3 284.0,782.8 292.2,779.0 300.4,775.8 308.6,795.8 316.8,807.8 325.0,808.3 333.2,817.0 341.3,815.0 349.5,816.3 357.7,822.5 365.9,819.5 374.1,810.8 382.3,809.5 390.5,811.5 398.7,819.5 406.9,808.3 415.1,777.0 423.2,756.5 431.4,737.8 439.6,743.3 447.8,750.8 456.0,762.0 464.2,727.8 472.4,726.3 480.6,731.3 488.8,742.8 497.0,752.0 505.1,754.5 513.3,763.3 521.5,777.0 529.7,790.8 537.9,783.3 546.1,785.8 554.3,796.3 562.5,787.0 570.7,794.5 578.9,797.0 587.1,785.0 595.2,822.8 603.4,811.5 611.6,828.3 619.8,835.0 628.0,822.0 636.2,824.5 644.4,795.8 652.6,784.0 660.8,753.3 669.0,731.5 677.1,737.0 685.3,747.8 693.5,744.0 701.7,778.3 709.9,778.3 718.1,779.5 726.3,797.8 734.5,801.5 742.7,799.0 750.9,768.3 759.0,749.5 767.2,739.5 775.4,729.0 783.6,734.5 791.8,744.0 800.0,742.0 808.2,749.5 816.4,739.0 824.6,744.5 832.8,758.3 840.9,784.5 849.1,816.5 857.3,809.5 865.5,795.0 873.7,794.0 881.9,752.8 890.1,757.0 898.3,775.8 906.5,744.0 914.6,772.0"/>
<polyline clip-path="url(#cp)" fill="none" stroke="#30c4dc" stroke-width="1.15" stroke-linejoin="round" points="2.0,781.5 5.6,783.0 13.8,782.7 21.9,768.8 30.1,749.2 38.3,756.9 46.5,755.1 54.7,752.0 62.9,752.6 71.1,763.3 79.3,773.4 87.5,774.6 95.6,777.8 103.8,791.1 112.0,777.9 120.2,768.0 128.4,768.0 136.6,775.3 144.8,752.5 153.0,747.1 161.2,752.3 169.4,756.5 177.5,749.1 185.7,757.9 193.9,760.6 202.1,763.5 210.3,776.7 218.5,788.2 226.7,773.7 234.9,760.3 243.1,753.5 251.3,757.8 259.4,770.6 267.6,775.8 275.8,787.8 284.0,790.9 292.2,791.0 300.4,791.9 308.6,800.8 316.8,805.6 325.0,805.4 333.2,807.7 341.3,805.5 349.5,804.3 357.7,804.4 365.9,800.4 374.1,794.1 382.3,790.8 390.5,788.5 398.7,787.5 406.9,778.8 415.1,763.3 423.2,754.0 431.4,747.3 439.6,750.4 447.8,754.5 456.0,758.7 464.2,746.9 472.4,749.3 480.6,754.8 488.8,762.6 497.0,769.2 505.1,772.6 513.3,778.7 521.5,785.9 529.7,792.1 537.9,790.1 546.1,791.9 554.3,796.1 562.5,793.3 570.7,796.7 578.9,797.9 587.1,794.2 595.2,807.8 603.4,801.8 611.6,805.8 619.8,804.3 628.0,795.0 636.2,790.8 644.4,775.8 652.6,768.5 660.8,756.1 669.0,749.0 677.1,753.7 685.3,760.1 693.5,761.0 701.7,775.0 709.9,774.4 718.1,774.4 726.3,779.5 734.5,777.7 742.7,773.0 750.9,758.6 759.0,750.4 767.2,747.4 775.4,745.2 783.6,749.8 791.8,755.7 800.0,756.7 808.2,761.2 816.4,759.7 824.6,764.5 832.8,772.4 840.9,783.7 849.1,794.8 857.3,788.7 865.5,780.5 873.7,777.7 881.9,761.1 890.1,763.7 898.3,771.6 906.5,760.3 914.6,771.7"/>
<polyline clip-path="url(#cp)" fill="none" stroke="#9060d0" stroke-width="1.25" stroke-linejoin="round" points="2.0,773.8 5.6,772.8 13.8,767.0 21.9,759.0 30.1,755.3 38.3,757.8 46.5,758.8 54.7,760.8 62.9,765.0 71.1,770.8 79.3,775.0 87.5,776.5 95.6,777.0 103.8,776.3 112.0,769.0 120.2,764.5 128.4,762.5 136.6,760.0 144.8,753.3 153.0,753.8 161.2,756.5 169.4,758.5 177.5,759.5 185.7,764.0 193.9,767.8 202.1,771.3 210.3,775.3 218.5,774.8 226.7,768.3 234.9,765.0 243.1,767.0 251.3,773.0 259.4,781.2 267.6,787.0 275.8,792.5 284.0,795.0 292.2,797.0 300.4,800.0 308.6,803.3 316.8,804.5 325.0,804.0 333.2,803.0 341.3,800.8 349.5,798.3 357.7,795.3 365.9,790.8 374.1,785.8 382.3,781.5 390.5,777.0 398.7,771.5 406.9,764.0 415.1,756.5 423.2,752.8 431.4,752.0 439.6,754.0 447.8,756.3 456.0,757.0 464.2,756.5 472.4,760.8 480.6,766.5 488.8,772.5 497.0,777.8 505.1,781.7 513.3,786.4 521.5,790.3 529.7,792.8 537.9,793.5 546.1,795.0 554.3,796.0 562.5,796.5 570.7,797.8 578.9,798.3 587.1,798.8 595.2,800.3 603.4,797.0 611.6,794.5 619.8,789.0 628.0,781.5 636.2,774.0 644.4,765.8 652.6,760.8 660.8,757.5 669.0,757.8 677.1,762.0 685.3,766.3 693.5,769.5 701.7,773.3 709.9,772.5 718.1,771.8 726.3,770.3 734.5,765.8 742.7,760.0 750.9,753.8 759.0,750.8 767.2,751.3 775.4,753.3 783.6,757.5 791.8,761.5 800.0,764.0 808.2,767.0 816.4,770.0 824.6,774.5 832.8,779.5 840.9,783.3 849.1,784.0 857.3,778.3 865.5,773.3 873.7,769.5 881.9,765.3 890.1,767.0 898.3,769.5 906.5,768.5 914.6,771.5"/>
<line x1="0" y1="544.3" x2="972" y2="544.3" stroke="#111" stroke-width="1.3"/>
<line x1="972" y1="544.4" x2="1054" y2="544.4" stroke="#333" stroke-width="0.8"/>
<line x1="0" y1="696.4" x2="972" y2="696.4" stroke="#111" stroke-width="1.3"/>
<line x1="972" y1="696.5" x2="1054" y2="696.5" stroke="#333" stroke-width="0.8"/>
<line x1="972.5" y1="43" x2="972.5" y2="844" stroke="#222" stroke-width="1"/>
<line x1="972.5" y1="76.5" x2="977.8" y2="76.5" stroke="#333" stroke-width="0.9"/>
<text x="979.50" y="81.00" font-size="14.52" fill="#111" textLength="50.91" lengthAdjust="spacingAndGlyphs">101.177</text>
<line x1="972.5" y1="111.5" x2="977.8" y2="111.5" stroke="#333" stroke-width="0.9"/>
<text x="979.75" y="116.00" font-size="14.52" fill="#111" textLength="42.68" lengthAdjust="spacingAndGlyphs">98.660</text>
<line x1="972.5" y1="146.6" x2="977.8" y2="146.6" stroke="#333" stroke-width="0.9"/>
<text x="979.75" y="151.00" font-size="14.52" fill="#111" textLength="42.93" lengthAdjust="spacingAndGlyphs">96.143</text>
<line x1="972.5" y1="181.7" x2="977.8" y2="181.7" stroke="#333" stroke-width="0.9"/>
<text x="979.75" y="186.00" font-size="14.52" fill="#111" textLength="42.93" lengthAdjust="spacingAndGlyphs">93.626</text>
<line x1="972.5" y1="216.8" x2="977.8" y2="216.8" stroke="#333" stroke-width="0.9"/>
<text x="979.75" y="221.00" font-size="14.52" fill="#111" textLength="42.93" lengthAdjust="spacingAndGlyphs">91.109</text>
<line x1="972.5" y1="251.9" x2="977.8" y2="251.9" stroke="#333" stroke-width="0.9"/>
<text x="980.00" y="257.00" font-size="14.52" fill="#111" textLength="42.67" lengthAdjust="spacingAndGlyphs">88.592</text>
<line x1="972.5" y1="287.0" x2="977.8" y2="287.0" stroke="#333" stroke-width="0.9"/>
<text x="980.00" y="292.00" font-size="14.52" fill="#111" textLength="42.67" lengthAdjust="spacingAndGlyphs">86.075</text>
<line x1="972.5" y1="322.1" x2="977.8" y2="322.1" stroke="#333" stroke-width="0.9"/>
<text x="980.00" y="327.00" font-size="14.52" fill="#111" textLength="42.67" lengthAdjust="spacingAndGlyphs">83.559</text>
<line x1="972.5" y1="357.2" x2="977.8" y2="357.2" stroke="#333" stroke-width="0.9"/>
<text x="980.00" y="362.00" font-size="14.52" fill="#111" textLength="42.67" lengthAdjust="spacingAndGlyphs">81.042</text>
<line x1="972.5" y1="392.3" x2="977.8" y2="392.3" stroke="#333" stroke-width="0.9"/>
<text x="979.75" y="397.00" font-size="14.52" fill="#111" textLength="42.93" lengthAdjust="spacingAndGlyphs">78.525</text>
<line x1="972.5" y1="427.4" x2="977.8" y2="427.4" stroke="#333" stroke-width="0.9"/>
<text x="979.75" y="432.00" font-size="14.52" fill="#111" textLength="42.93" lengthAdjust="spacingAndGlyphs">76.008</text>
<line x1="972.5" y1="462.4" x2="977.8" y2="462.4" stroke="#333" stroke-width="0.9"/>
<text x="979.75" y="467.00" font-size="14.52" fill="#111" textLength="42.93" lengthAdjust="spacingAndGlyphs">73.491</text>
<line x1="972.5" y1="497.5" x2="977.8" y2="497.5" stroke="#333" stroke-width="0.9"/>
<text x="979.75" y="502.00" font-size="14.52" fill="#111" textLength="42.68" lengthAdjust="spacingAndGlyphs">70.974</text>
<line x1="972.5" y1="532.6" x2="977.8" y2="532.6" stroke="#333" stroke-width="0.9"/>
<text x="979.75" y="537.00" font-size="14.52" fill="#111" textLength="42.93" lengthAdjust="spacingAndGlyphs">68.457</text>
<line x1="972.5" y1="579.4" x2="977.8" y2="579.4" stroke="#333" stroke-width="0.9"/>
<text x="979.75" y="584.00" font-size="14.52" fill="#111" textLength="35.22" lengthAdjust="spacingAndGlyphs">2.877</text>
<line x1="972.5" y1="614.5" x2="977.8" y2="614.5" stroke="#333" stroke-width="0.9"/>
<text x="980.00" y="619.00" font-size="14.52" fill="#111" textLength="34.95" lengthAdjust="spacingAndGlyphs">0.769</text>
<line x1="972.5" y1="649.6" x2="977.8" y2="649.6" stroke="#333" stroke-width="0.9"/>
<text x="980.00" y="654.00" font-size="14.52" fill="#111" textLength="40.80" lengthAdjust="spacingAndGlyphs">-1.338</text>
<line x1="972.5" y1="684.7" x2="977.8" y2="684.7" stroke="#333" stroke-width="0.9"/>
<text x="980.00" y="689.00" font-size="14.52" fill="#111" textLength="40.54" lengthAdjust="spacingAndGlyphs">-3.445</text>
<line x1="972.5" y1="731.3" x2="977.8" y2="731.3" stroke="#333" stroke-width="0.9"/>
<text x="979.75" y="736.00" font-size="14.52" fill="#111" textLength="42.93" lengthAdjust="spacingAndGlyphs">97.229</text>
<line x1="972.5" y1="766.4" x2="977.8" y2="766.4" stroke="#333" stroke-width="0.9"/>
<text x="979.75" y="771.00" font-size="14.52" fill="#111" textLength="42.93" lengthAdjust="spacingAndGlyphs">62.506</text>
<line x1="972.5" y1="801.5" x2="977.8" y2="801.5" stroke="#333" stroke-width="0.9"/>
<text x="979.75" y="806.00" font-size="14.52" fill="#111" textLength="42.68" lengthAdjust="spacingAndGlyphs">27.784</text>
<line x1="972.5" y1="836.6" x2="977.8" y2="836.6" stroke="#333" stroke-width="0.9"/>
<text x="980.00" y="841.00" font-size="14.52" fill="#111" textLength="40.80" lengthAdjust="spacingAndGlyphs">-6.938</text>
<rect x="974.1" y="461.3" width="80" height="20.6" fill="#04a204"/>
<line x1="974" y1="471.6" x2="978.6" y2="471.6" stroke="#fff" stroke-width="1"/>
<text x="980.55" y="476.00" font-size="14.52" fill="#fff" textLength="42.93" lengthAdjust="spacingAndGlyphs">72.888</text>
<text x="34.85" y="67.00" font-size="15.14" fill="#f0200e" textLength="48.14" lengthAdjust="spacingAndGlyphs">78.230</text>
<text x="118.35" y="67.00" font-size="15.14" fill="#f0200e" textLength="48.14" lengthAdjust="spacingAndGlyphs">79.730</text>
<text x="201.85" y="67.00" font-size="15.14" fill="#f0200e" textLength="48.14" lengthAdjust="spacingAndGlyphs">76.520</text>
<text x="285.35" y="67.00" font-size="15.14" fill="#f0200e" textLength="48.30" lengthAdjust="spacingAndGlyphs">78.700</text>
<text x="13.10" y="67" font-size="13.6" fill="#111" textLength="16" lengthAdjust="spacingAndGlyphs">开</text>
<text x="29.50" y="67" font-size="14.5" fill="#111">:</text>
<text x="96.60" y="67" font-size="13.6" fill="#111" textLength="16" lengthAdjust="spacingAndGlyphs">高</text>
<text x="113.00" y="67" font-size="14.5" fill="#111">:</text>
<text x="180.10" y="67" font-size="13.6" fill="#111" textLength="16" lengthAdjust="spacingAndGlyphs">低</text>
<text x="196.50" y="67" font-size="14.5" fill="#111">:</text>
<text x="263.60" y="67" font-size="13.6" fill="#111" textLength="16" lengthAdjust="spacingAndGlyphs">收</text>
<text x="280.00" y="67" font-size="14.5" fill="#111">:</text>
<text x="13.50" y="87.00" font-size="14.25" fill="#ee4a86" textLength="39.89" lengthAdjust="spacingAndGlyphs">MA5:</text>
<text x="59.25" y="87.00" font-size="14.25" fill="#ee4a86" textLength="48.23" lengthAdjust="spacingAndGlyphs">78.378</text>
<text x="121.05" y="87.00" font-size="14.25" fill="#30c4dc" textLength="48.46" lengthAdjust="spacingAndGlyphs">MA10:</text>
<text x="175.95" y="87.00" font-size="14.25" fill="#30c4dc" textLength="47.29" lengthAdjust="spacingAndGlyphs">78.474</text>
<text x="237.35" y="87.00" font-size="14.25" fill="#b45ac8" textLength="48.46" lengthAdjust="spacingAndGlyphs">MA20:</text>
<text x="291.65" y="87.00" font-size="14.25" fill="#b45ac8" textLength="48.15" lengthAdjust="spacingAndGlyphs">83.776</text>
<text x="13.65" y="563.00" font-size="14.66" fill="#04a204" textLength="48.11" lengthAdjust="spacingAndGlyphs">MACD:</text>
<text x="63.35" y="563.00" font-size="14.66" fill="#04a204" textLength="42.21" lengthAdjust="spacingAndGlyphs">-1.985</text>
<text x="119.75" y="563.00" font-size="14.66" fill="#4da3f0" textLength="33.83" lengthAdjust="spacingAndGlyphs">DIFF:</text>
<text x="155.60" y="563.00" font-size="14.66" fill="#4da3f0" textLength="40.52" lengthAdjust="spacingAndGlyphs">-0.021</text>
<text x="211.15" y="563.00" font-size="14.66" fill="#ff6f1e" textLength="33.54" lengthAdjust="spacingAndGlyphs">DEA:</text>
<text x="246.00" y="563.00" font-size="14.66" fill="#ff6f1e" textLength="35.86" lengthAdjust="spacingAndGlyphs">0.972</text>
<text x="14.20" y="715.00" font-size="15.10" fill="#30c4dc" textLength="12.76" lengthAdjust="spacingAndGlyphs">K:</text>
<text x="29.30" y="715.00" font-size="15.10" fill="#30c4dc" textLength="43.38" lengthAdjust="spacingAndGlyphs">30.945</text>
<text x="86.95" y="715.00" font-size="15.10" fill="#9060d0" textLength="15.22" lengthAdjust="spacingAndGlyphs">D:</text>
<text x="104.40" y="715.00" font-size="15.10" fill="#9060d0" textLength="43.38" lengthAdjust="spacingAndGlyphs">30.405</text>
<text x="162.65" y="715.00" font-size="15.10" fill="#5cb85c" textLength="8.95" lengthAdjust="spacingAndGlyphs">J:</text>
<text x="174.30" y="715.00" font-size="15.10" fill="#5cb85c" textLength="44.34" lengthAdjust="spacingAndGlyphs">32.026</text>
</svg></body></html>
